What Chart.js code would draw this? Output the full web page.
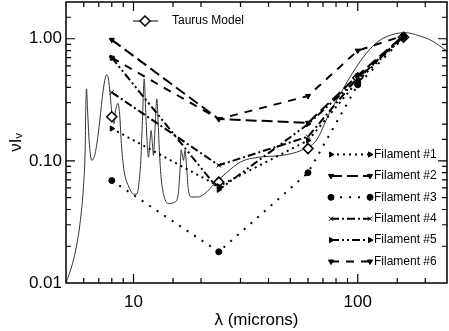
<!DOCTYPE html>
<html>
<head>
<meta charset="utf-8">
<script src="https://cdn.jsdelivr.net/npm/chart.js@4"></script>
<style>
  html, body { margin: 0; padding: 0; background: #fff; }
  #wrap { width: 449px; height: 331px; }
</style>
</head>
<body>
<div id="wrap"><canvas id="sed"></canvas></div>
<script>
// band wavelengths (microns)
var bands = [8, 24, 60, 100, 160];

var fil1 = [0.184, 0.062, 0.147, 0.45, 1.04];
var fil2 = [0.98, 0.22, 0.205, 0.50, 1.06];
var fil3 = [0.069, 0.018, 0.080, 0.42, 1.02];
var fil4 = [0.364, 0.092, 0.158, 0.48, 1.04];
var fil5 = [0.70, 0.058, 0.20, 0.47, 1.05];
var fil6 = [0.70, 0.22, 0.34, 0.80, 1.06];
var taurus = [0.23, 0.067, 0.126, 0.48, 1.03];

// model spectrum
var specWave = [5.0, 5.35, 5.63, 5.82, 5.98, 6.09, 6.12, 6.17, 6.25, 6.34, 6.51, 6.74, 7.02, 7.26, 7.44, 7.59,
  7.73, 7.86, 8.04, 8.18, 8.32, 8.53, 8.67, 8.85, 9.07, 9.54, 10.04, 10.38, 10.52, 10.78, 10.96, 11.16,
  11.30, 11.47, 11.66, 11.86, 11.98, 12.14, 12.27, 12.48, 12.70, 12.87, 13.04, 13.27, 13.59, 14.30,
  15.31, 15.84, 16.12, 16.33, 16.56, 16.70, 16.96, 17.25, 17.54, 18.16, 19.43, 20.8, 23.0, 26.0, 30.0,
  36.0, 46.0, 56.0, 65.3, 74.6, 85.2, 94.4, 108.9, 124.4, 148, 164, 187, 214, 250];
var specVal = [0.0100, 0.0145, 0.0224, 0.0348, 0.061, 0.130, 0.243, 0.389, 0.243, 0.147, 0.101, 0.1145, 0.189, 0.332, 0.454, 0.508,
  0.469, 0.354, 0.228, 0.201, 0.258, 0.296, 0.243, 0.130, 0.0836, 0.061, 0.0533, 0.054, 0.061, 0.101, 0.214, 0.469,
  0.293, 0.156, 0.107, 0.147, 0.177, 0.139, 0.111, 0.189, 0.322, 0.214, 0.122, 0.0738, 0.054, 0.0447,
  0.0461, 0.054, 0.0836, 0.1234, 0.107, 0.101, 0.122, 0.089, 0.0593, 0.0506, 0.0506, 0.054, 0.065, 0.080, 0.098,
  0.107, 0.111, 0.122, 0.147, 0.244, 0.376, 0.518, 0.755, 0.963, 1.10, 1.12, 1.06, 0.963, 0.79];

var filNames = ["Filament #1", "Filament #2", "Filament #3", "Filament #4", "Filament #5", "Filament #6"];

function pts(xs, ys) {
  return xs.map(function (x, i) { return { x: x, y: ys[i] }; });
}

var dashes = [[2, 4], [11, 5], [2, 7], [8, 3, 2, 3], [8, 3, 2, 3, 2, 3], [8, 7]];
var marks = ["triangle", "triangle", "circle", "crossRot", "triangle", "triangle"];
var rots = [90, 180, 0, 0, 90, 180];
var filData = [fil1, fil2, fil3, fil4, fil5, fil6];

var datasets = filData.map(function (d, i) {
  return {
    label: filNames[i],
    data: pts(bands, d),
    borderColor: "#000",
    backgroundColor: "#000",
    borderWidth: 2,
    borderDash: dashes[i],
    pointStyle: marks[i],
    pointRotation: rots[i],
    pointRadius: 3,
    pointBorderWidth: 1,
    tension: 0
  };
});

datasets.push({
  label: "Taurus Model",
  data: pts(bands, taurus),
  showLine: false,
  pointStyle: "rectRot",
  pointRadius: 5,
  pointBorderWidth: 1.5,
  borderColor: "#000",
  backgroundColor: "#fff"
});

datasets.push({
  label: "spectrum",
  data: pts(specWave, specVal),
  borderColor: "#333",
  borderWidth: 1,
  pointRadius: 0,
  cubicInterpolationMode: "monotone"
});

var isDecade = function (v) {
  var l = Math.log10(v);
  return Math.abs(l - Math.round(l)) < 1e-6;
};

var frameAndLegend = {
  id: "frameAndLegend",
  afterDraw: function (chart) {
    var ctx = chart.ctx;
    var a = chart.chartArea;
    var xs = chart.scales.x, ys = chart.scales.y;
    ctx.save();
    ctx.strokeStyle = "#000";
    ctx.lineWidth = 1.5;
    ctx.setLineDash([]);
    ctx.strokeRect(a.left, a.top, a.right - a.left, a.bottom - a.top);

    // inward ticks on all four sides
    ctx.lineWidth = 1.2;
    ctx.beginPath();
    xs.ticks.forEach(function (t) {
      var px = xs.getPixelForValue(t.value);
      if (px <= a.left + 1 || px >= a.right - 1) return;
      var len = isDecade(t.value) ? 9 : 5;
      ctx.moveTo(px, a.bottom); ctx.lineTo(px, a.bottom - len);
      ctx.moveTo(px, a.top); ctx.lineTo(px, a.top + len);
    });
    ys.ticks.forEach(function (t) {
      var py = ys.getPixelForValue(t.value);
      if (py <= a.top + 1 || py >= a.bottom - 1) return;
      var len = isDecade(t.value) ? 9 : 5;
      ctx.moveTo(a.left, py); ctx.lineTo(a.left + len, py);
      ctx.moveTo(a.right, py); ctx.lineTo(a.right - len, py);
    });
    ctx.stroke();

    // Taurus model legend
    ctx.lineWidth = 1;
    ctx.beginPath();
    ctx.moveTo(133, 21); ctx.lineTo(158, 21);
    ctx.stroke();
    ctx.fillStyle = "#fff";
    ctx.lineWidth = 1.5;
    Chart.helpers.drawPoint(ctx, { pointStyle: "rectRot", radius: 5, rotation: 0, borderWidth: 1.5 }, 145, 21);
    ctx.fillStyle = "#000";
    ctx.font = "12px 'Liberation Sans', Arial, sans-serif";
    ctx.textBaseline = "middle";
    ctx.fillText("Taurus Model", 172, 21);

    // filament legend
    for (var i = 0; i < 6; i++) {
      var y = 154.5 + i * 21.4;
      var ds = datasets[i];
      ctx.strokeStyle = "#000";
      ctx.lineWidth = 2;
      ctx.setLineDash(ds.borderDash);
      ctx.beginPath();
      ctx.moveTo(331, y); ctx.lineTo(370, y);
      ctx.stroke();
      ctx.setLineDash([]);
      ctx.fillStyle = "#000";
      ctx.lineWidth = 1;
      Chart.helpers.drawPoint(ctx, { pointStyle: ds.pointStyle, radius: 3, rotation: ds.pointRotation, borderWidth: 1 }, 331, y);
      Chart.helpers.drawPoint(ctx, { pointStyle: ds.pointStyle, radius: 3, rotation: ds.pointRotation, borderWidth: 1 }, 370, y);
      ctx.fillText(filNames[i], 374, y);
    }
    ctx.restore();
  }
};

var ctx = document.getElementById("sed").getContext("2d");
var sedChart = new Chart(ctx, {
  type: "line",
  data: { datasets: datasets },
  options: {
    responsive: true,
    maintainAspectRatio: false,
    animation: false,
    layout: { autoPadding: false, padding: { top: 2, right: 2, left: 0, bottom: 0 } },
    plugins: {
      legend: { display: false },
      tooltip: { enabled: false }
    },
    scales: {
      x: {
        type: "logarithmic",
        min: 5,
        max: 250,
        grid: { display: false, drawTicks: false },
        border: { display: false },
        afterFit: function (s) { s.height = 48; s.paddingLeft = 0; s.paddingRight = 0; },
        ticks: {
          autoSkip: false,
          maxRotation: 0,
          padding: 9,
          color: "#000",
          font: { family: "'Liberation Sans', Arial, sans-serif", size: 17 },
          callback: function (v) { return (v === 10 || v === 100) ? String(v) : ""; }
        },
        title: {
          display: true,
          text: "λ (microns)",
          color: "#000",
          font: { family: "'Liberation Sans', Arial, sans-serif", size: 17 },
          padding: { top: 2, bottom: 0 }
        }
      },
      y: {
        type: "logarithmic",
        min: 0.01,
        max: 2,
        grid: { display: false, drawTicks: false },
        border: { display: false },
        afterFit: function (s) { s.width = 66; s.paddingTop = 0; s.paddingBottom = 0; },
        ticks: {
          autoSkip: false,
          padding: 4,
          color: "#000",
          font: { family: "'Liberation Sans', Arial, sans-serif", size: 17 },
          callback: function (v) { return isDecade(v) ? Number(v).toFixed(2) : ""; }
        },
        title: {
          display: true,
          text: "νIᵥ",
          color: "#000",
          font: { family: "'Liberation Sans', Arial, sans-serif", size: 17 },
          padding: { top: 6, bottom: 2 }
        }
      }
    }
  },
  plugins: [frameAndLegend]
});
</script>
</body>
</html>
